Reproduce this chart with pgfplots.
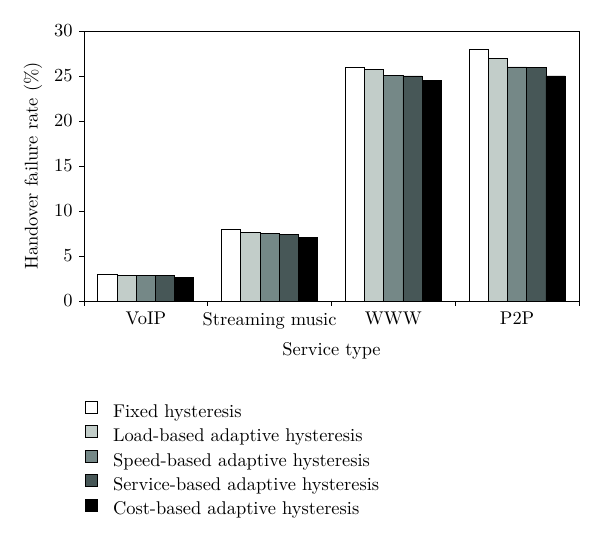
\documentclass[border=0pt]{standalone}
\usepackage{fontspec}
\setmainfont{lmroman10-regular.otf}[BoldFont=lmroman10-bold.otf, ItalicFont=lmroman10-italic.otf]
\usepackage{pgfplots}
\pgfplotsset{compat=1.18}
\definecolor{lightg}{RGB}{194,205,201}
\definecolor{midg}{RGB}{117,136,135}
\definecolor{darkg}{RGB}{71,87,87}
\begin{document}
\fontsize{18.5}{22}\selectfont
\begin{tikzpicture}[x=1bp,y=1bp]
\useasboundingbox (0,0) rectangle (600,540);
\begin{axis}[
  at={(84bp,239bp)}, anchor=south west,
  scale only axis, width=495bp, height=270bp,
  xmin=-0.5, xmax=3.5, ymin=0, ymax=30,
  ytick={0,5,...,30},
  xtick={-0.5,0.5,1.5,2.5,3.5}, xticklabels={},
  extra x ticks={0,1,2,3},
  extra x tick labels={VoIP,Streaming music,WWW,P2P},
  extra x tick style={major tick length=0pt, tick label style={yshift=-5bp}},
  tick align=outside, xtick pos=bottom, ytick pos=left,
  major tick length=5bp,
  tick style={black, line width=0.8bp},
  axis line style={line width=0.8bp},
  /pgf/number format/assume math mode=true,
  ybar=0pt, bar width=19.2bp,
  xlabel={Service type},
  ylabel={Handover failure rate (\%)},
  xlabel style={at={(axis description cs:0.5,-0.2037)}, anchor=base},
  ylabel style={at={(axis description cs:-0.0939,0.5)}, anchor=base},
  legend style={draw=none, fill=none, at={(axis description cs:-0.004,-0.362)}, anchor=north west,
    nodes={inner sep=0pt, text height=12bp, text depth=4bp}, row sep=4bp, column sep=15bp},
  legend cell align=left,
  legend image code/.code={\draw[#1, draw=black, line width=0.8bp] (0bp,0bp) rectangle (12bp,12bp);},
]
\addplot[fill=white, draw=black, line width=0.8bp] coordinates {(0,2.9)(1,8.0)(2,25.9)(3,27.9)};
\addplot[fill=lightg, draw=black, line width=0.8bp] coordinates {(0,2.8)(1,7.6)(2,25.7)(3,26.9)};
\addplot[fill=midg, draw=black, line width=0.8bp] coordinates {(0,2.8)(1,7.5)(2,25.1)(3,26.0)};
\addplot[fill=darkg, draw=black, line width=0.8bp] coordinates {(0,2.8)(1,7.4)(2,25.0)(3,25.9)};
\addplot[fill=black, draw=black, line width=0.8bp] coordinates {(0,2.6)(1,7.1)(2,24.5)(3,25.0)};
\legend{Fixed hysteresis, Load-based adaptive hysteresis, Speed-based adaptive hysteresis, Service-based adaptive hysteresis, Cost-based adaptive hysteresis}
\end{axis}
\end{tikzpicture}
\end{document}
